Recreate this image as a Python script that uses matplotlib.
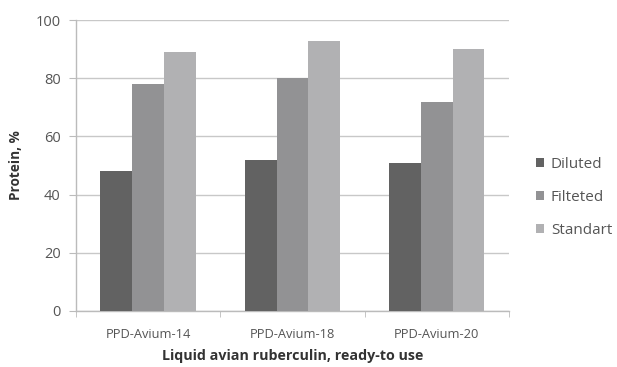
import numpy as np
import matplotlib.pyplot as plt

plt.rcParams['font.family'] = ['Open Sans', 'DejaVu Sans']

categories = ['PPD-Avium-14', 'PPD-Avium-18', 'PPD-Avium-20']
diluted = [48, 52, 51]
filteted = [78, 80, 72]
standart = [89, 93, 90]

series = [('Diluted', diluted, '#626262'),
          ('Filteted', filteted, '#929294'),
          ('Standart', standart, '#b1b1b3')]

fig = plt.figure(figsize=(6.17, 3.67), dpi=100)
ax = fig.add_axes([0.123, 0.153, 0.702, 0.792])

x = np.arange(len(categories))
w = 0.22
for i, (name, vals, col) in enumerate(series):
    ax.bar(x + (i - 1) * w, vals, w, color=col, label=name, zorder=3)

ax.set_xlim(-0.5, 2.5)
ax.set_ylim(0, 100)
ax.set_yticks(range(0, 101, 20))
ax.yaxis.grid(True, color='#c8c8c8', linewidth=1, zorder=0)

# ticks sit between the category groups
ax.set_xticks(x)
ax.set_xticklabels(categories)
ax.set_xticks([-0.5, 0.5, 1.5, 2.5], minor=True)
ax.tick_params(axis='x', which='major', length=0, pad=12, labelsize=9.3, labelcolor='#555555')
ax.tick_params(axis='x', which='minor', length=4, color='#bbbbbb', direction='out')
ax.tick_params(axis='y', length=5, color='#bbbbbb', labelsize=10.5, labelcolor='#555555', pad=6)

for s in ['top', 'right']:
    ax.spines[s].set_visible(False)
for s in ['left', 'bottom']:
    ax.spines[s].set_color('#bbbbbb')
    ax.spines[s].set_linewidth(1)

ax.set_ylabel('Protein, %', fontsize=9.8, fontweight='bold', color='#333333', labelpad=9)
ax.set_xlabel('Liquid avian ruberculin, ready-to use', fontsize=10.3, fontweight='bold',
              color='#333333', labelpad=6)

fig.legend(loc='center left', bbox_to_anchor=(0.868, 0.462), frameon=False,
           fontsize=11, handlelength=0.55, handleheight=0.55, handletextpad=0.45,
           labelspacing=1.2, labelcolor='#555555', borderpad=0, borderaxespad=0)

fig.savefig('out.png', dpi=100)
